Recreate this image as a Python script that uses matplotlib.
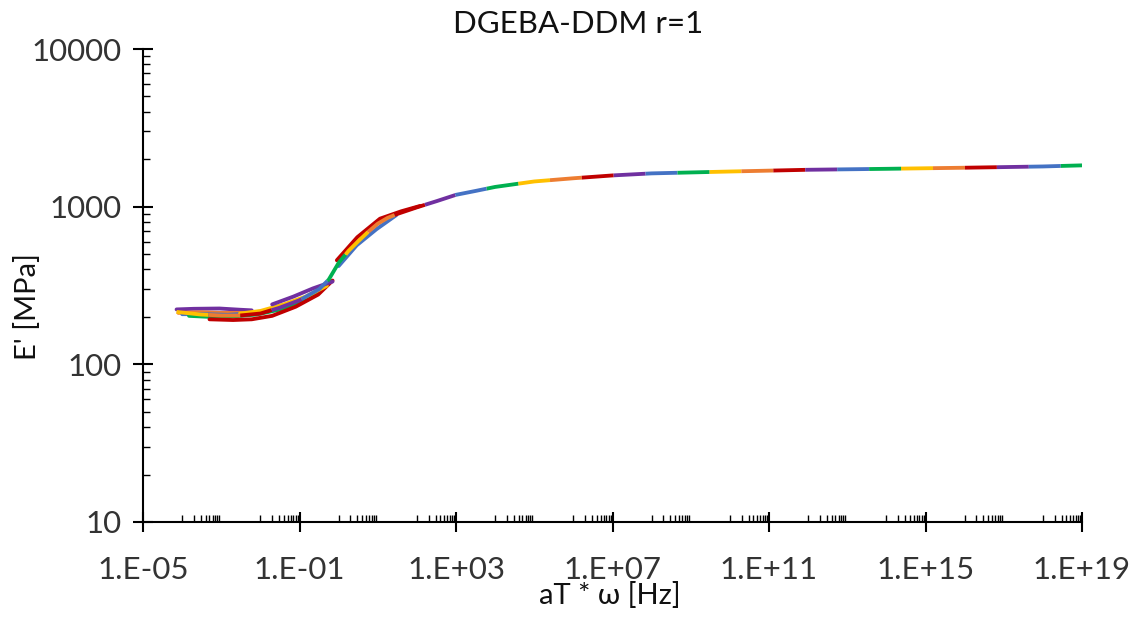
import math
import matplotlib
matplotlib.use('Agg')
import matplotlib.pyplot as plt
from matplotlib.ticker import FixedLocator, FuncFormatter, NullFormatter

plt.rcParams['font.family'] = ['Lato', 'DejaVu Sans']
plt.rcParams['lines.scale_dashes'] = False

# master curve: reduced frequency [Hz] and E' [MPa]
master_f = [7.2e-5, 3e-4, 1e-3, 3e-3, 1e-2, 3e-2, 0.1, 0.32, 0.56, 1.0, 1.8, 3.2,
            5.6, 10, 18, 32, 100, 320, 1e3, 3.2e3, 1e4, 1e5, 1e6, 1e7, 1e8,
            1e10, 1e12, 1e14, 1e16, 1e18, 1e19]
master_E = [215, 207, 204, 204, 210, 228, 255, 300, 345, 440, 525, 605,
            690, 780, 850, 900, 990, 1084, 1189, 1259, 1334, 1445, 1514, 1578, 1626,
            1671, 1714, 1738, 1766, 1799, 1828]

# individual sweeps that spread apart in the rubbery / transition zone
strand_f = [
    [7.2e-5, 2e-4, 9e-4, 3e-3, 6e-3],
    [8e-5, 3e-4, 1e-3, 5e-3, 0.02],
    [1e-4, 4e-4, 1.5e-3, 6e-3],
    [1.5e-4, 5e-4, 2e-3, 8e-3, 3e-2, 0.1, 0.3],
    [5e-4, 2e-3, 6e-3, 2e-2, 8e-2, 0.3, 0.7],
    [3e-3, 1e-2, 4e-2, 0.15, 0.5],
    [0.02, 0.07, 0.22, 0.7],
    [0.9, 3, 11.4, 40, 120],
    [1.0, 2.9, 9.3, 30],
]
strand_E = [
    [223, 225, 226, 222, 220],
    [212, 214, 212, 212, 220],
    [208, 208, 206, 211],
    [203, 200, 201, 207, 222, 245, 282],
    [193, 191, 193, 203, 232, 277, 340],
    [210, 218, 240, 270, 315],
    [240, 269, 303, 335],
    [457, 640, 839, 935, 1010],
    [420, 569, 720, 885],
]
strand_colors = ['#7030A0', '#ED7D31', '#4472C4', '#00B050', '#C00000',
                 '#FFC000', '#7030A0', '#C00000', '#4472C4']

cycle_colors = ['#FFC000', '#ED7D31', '#C00000', '#7030A0', '#4472C4', '#00B050']

fig = plt.figure(figsize=(11.31, 6.18), dpi=100)
ax = fig.add_axes([0.12644, 0.15534, 0.83024, 0.76537])

lw = 2.75
for f, e, c in zip(strand_f, strand_E, strand_colors):
    ax.plot(f, e, color=c, lw=lw, solid_capstyle='round')

seg = 23
n = len(cycle_colors)
for k, c in enumerate(cycle_colors):
    ax.plot(master_f, master_E, color=c, lw=lw, dash_capstyle='butt',
            linestyle=(((n - k) % n) * seg, (seg, seg * (n - 1))))

ax.set_xscale('log')
ax.set_yscale('log')
ax.set_xlim(1e-5, 1e19)
ax.set_ylim(10, 10000)

# x axis: labels every 4 decades, minor groups every other decade
ax.xaxis.set_major_locator(FixedLocator([10.0 ** p for p in range(-5, 20, 4)]))
ax.xaxis.set_major_formatter(FuncFormatter(
    lambda v, pos: '1.E{:+03d}'.format(int(round(math.log10(v))))))
ax.xaxis.set_minor_locator(FixedLocator(
    [k * 10.0 ** p for p in range(-4, 19, 2) for k in range(1, 10)]))
ax.xaxis.set_minor_formatter(NullFormatter())

ax.yaxis.set_major_locator(FixedLocator([10, 100, 1000, 10000]))
ax.yaxis.set_major_formatter(FuncFormatter(lambda v, pos: '%d' % v))
ax.yaxis.set_minor_locator(FixedLocator(
    [k * 10.0 ** p for p in range(1, 4) for k in range(2, 10)]))
ax.yaxis.set_minor_formatter(NullFormatter())

for s in ['top', 'right']:
    ax.spines[s].set_visible(False)
for s in ['left', 'bottom']:
    ax.spines[s].set_linewidth(1.5)

ax.tick_params(which='major', direction='inout', length=14.4, width=1.5,
               labelsize=22.5, labelcolor='#333333', color='black')
ax.tick_params(axis='x', which='major', pad=17)
ax.tick_params(axis='y', which='major', pad=8)
ax.tick_params(which='minor', direction='in', length=5, width=1.0)

fig.text(578 / 1131, 1 - 33 / 618, 'DGEBA-DDM r=1', ha='center', va='baseline',
         fontsize=22.5, color='#111111')
fig.text(610 / 1131, 1 - 604 / 618, 'aT * ω [Hz]', ha='center', va='baseline',
         fontsize=21, color='#111111')
fig.text(28 / 1131, 1 - 307 / 618, "E' [MPa]", ha='center', va='center',
         rotation=90, fontsize=21, color='#111111')

fig.savefig('out.png', dpi=100)
